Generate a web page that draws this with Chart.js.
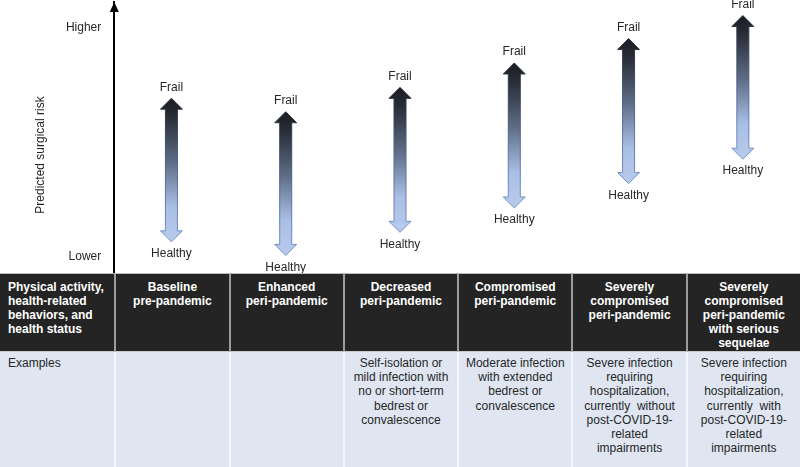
<!DOCTYPE html>
<html>
<head>
<meta charset="utf-8">
<script src="https://cdn.jsdelivr.net/npm/chart.js@4"></script>
<style>
  html, body { margin: 0; padding: 0; background: #fff; }
  body { width: 800px; height: 467px; overflow: hidden; font-family: "Liberation Sans", Arial, sans-serif; }
  #wrap { position: absolute; left: 0; top: 0; width: 800px; height: 273px; }
  #tbl {
    position: absolute; left: 0; top: 273px; width: 800px; height: 194px;
    display: grid; grid-template-columns: repeat(7, 1fr); grid-template-rows: 79px 115px;
    background: #dfe6f2;
  }
  .hd { background: #242424; color: #fff; font-weight: bold; font-size: 12px; line-height: 14px;
        text-align: center; padding-top: 6px; box-sizing: border-box; border-top: 1px solid #bdbdbd;
        border-bottom: 1px solid #c9c9c9; }
  .hd + .hd { border-left: 2px solid #9c9c9c; }
  .ex { background: #dfe6f2; color: #262626; font-size: 12px; line-height: 14.2px; text-align: center;
        padding-top: 4px; box-sizing: border-box; }
  .ex + .ex { border-left: 2px solid #f3f5f9; }
  .first { text-align: left; padding-left: 8px; }
</style>
</head>
<body>
<div id="wrap"><canvas id="chartRisk"></canvas></div>
<div id="tbl"></div>
<script>
// arrow columns (one per stage)
const categories = [
  "Baseline pre-pandemic",
  "Enhanced peri-pandemic",
  "Decreased peri-pandemic",
  "Compromised peri-pandemic",
  "Severely compromised peri-pandemic",
  "Severely compromised peri-pandemic with serious sequelae"
];
// predicted risk, 0 = lowest, 100 = highest
const frailRisk   = [64.5, 59.5, 68.5, 77.5, 86.5, 95];
const healthyRisk = [11.5, 6.5, 15, 24, 33, 42];
const tickValues = [6, 90.5];
const tickLabels = ["Lower", "Higher"];
const axisTitle = "Predicted surgical risk";
const topLabel = "Frail";
const bottomLabel = "Healthy";

// table below the chart
const headerLines = [
  ["Physical activity,", "health-related", "behaviors, and", "health status"],
  ["Baseline", "pre-pandemic"],
  ["Enhanced", "peri-pandemic"],
  ["Decreased", "peri-pandemic"],
  ["Compromised", "peri-pandemic"],
  ["Severely", "compromised", "peri-pandemic"],
  ["Severely", "compromised", "peri-pandemic", "with serious", "sequelae"]
];
const exampleLines = [
  ["Examples"],
  [],
  [],
  ["Self-isolation or", "mild infection with", "no or short-term", "bedrest or", "convalescence"],
  ["Moderate infection", "with extended", "bedrest or", "convalescence"],
  ["Severe infection", "requiring", "hospitalization,", "currently\u00a0 without", "post-COVID-19-", "related", "impairments"],
  ["Severe infection", "requiring", "hospitalization,", "currently\u00a0 with", "post-COVID-19-", "related", "impairments"]
];

const tbl = document.getElementById("tbl");
headerLines.forEach((lines, i) => {
  const d = document.createElement("div");
  d.className = "hd" + (i === 0 ? " first" : "");
  d.innerHTML = lines.join("<br>");
  tbl.appendChild(d);
});
exampleLines.forEach((lines, i) => {
  const d = document.createElement("div");
  d.className = "ex" + (i === 0 ? " first" : "");
  d.innerHTML = lines.join("<br>");
  tbl.appendChild(d);
});

const FONT = '12px "Liberation Sans", Arial, sans-serif';

/* draws the double arrows, their labels, the axis arrowhead and title */
const arrowPlugin = {
  id: "arrows",
  afterDatasetsDraw(chart) {
    const ctx = chart.ctx;
    const meta = chart.getDatasetMeta(0);
    const sw = 6, hw = 11, hh = 11;
    ctx.save();
    meta.data.forEach((bar) => {
      const x = bar.x;
      const top = Math.min(bar.y, bar.base);
      const bot = Math.max(bar.y, bar.base);
      const fill = ctx.createLinearGradient(0, top, 0, bot);
      fill.addColorStop(0, "#1b1d23");
      fill.addColorStop(0.12, "#272b34");
      fill.addColorStop(0.45, "#5f6e88");
      fill.addColorStop(0.75, "#a8bee5");
      fill.addColorStop(1, "#b9cbec");
      const line = ctx.createLinearGradient(0, top, 0, bot);
      line.addColorStop(0, "#2a2d35");
      line.addColorStop(0.5, "#4f6690");
      line.addColorStop(1, "#7695cf");
      ctx.beginPath();
      ctx.moveTo(x, top);
      ctx.lineTo(x + hw, top + hh);
      ctx.lineTo(x + sw, top + hh);
      ctx.lineTo(x + sw, bot - hh);
      ctx.lineTo(x + hw, bot - hh);
      ctx.lineTo(x, bot);
      ctx.lineTo(x - hw, bot - hh);
      ctx.lineTo(x - sw, bot - hh);
      ctx.lineTo(x - sw, top + hh);
      ctx.lineTo(x - hw, top + hh);
      ctx.closePath();
      ctx.fillStyle = fill;
      ctx.fill();
      ctx.lineWidth = 1;
      ctx.strokeStyle = line;
      ctx.stroke();

      ctx.fillStyle = "#262626";
      ctx.font = FONT;
      ctx.textAlign = "center";
      ctx.textBaseline = "middle";
      ctx.fillText(topLabel, x, top - 11);
      ctx.fillText(bottomLabel, x, bot + 12);
    });

    // arrowhead on the y axis
    const area = chart.chartArea;
    const ax = area.left;
    ctx.fillStyle = "#000";
    ctx.beginPath();
    ctx.moveTo(ax, area.top);
    ctx.lineTo(ax + 4.5, area.top + 10);
    ctx.lineTo(ax - 4.5, area.top + 10);
    ctx.closePath();
    ctx.fill();

    // axis title
    ctx.translate(41, 155);
    ctx.rotate(-Math.PI / 2);
    ctx.fillStyle = "#262626";
    ctx.font = FONT;
    ctx.textAlign = "center";
    ctx.textBaseline = "middle";
    ctx.fillText(axisTitle, 0, 0);
    ctx.restore();
  }
};

const data = {
  labels: categories,
  datasets: [{
    label: "risk range",
    data: categories.map((c, i) => [healthyRisk[i], frailRisk[i]]),
    backgroundColor: "rgba(0,0,0,0)",
    borderWidth: 0
  }]
};

const config = {
  type: "bar",
  data: data,
  options: {
    responsive: true,
    maintainAspectRatio: false,
    animation: false,
    layout: { padding: { top: 2, left: 0, right: 0, bottom: 0 } },
    plugins: { legend: { display: false }, tooltip: { enabled: false } },
    scales: {
      x: { display: false },
      y: {
        min: 0,
        max: 100,
        grid: { display: false },
        border: { display: true, color: "#000", width: 2 },
        afterFit(scale) {
          scale.width = 800 / 7;
          // labels sit well inside the range, no extra room needed above/below
          scale.paddingTop = 0;
          scale.paddingBottom = 0;
        },
        afterBuildTicks(scale) { scale.ticks = tickValues.map((v) => ({ value: v })); },
        ticks: {
          padding: 5,
          color: "#262626",
          font: { family: '"Liberation Sans", Arial, sans-serif', size: 12 },
          callback: (v) => tickLabels[tickValues.indexOf(v)]
        }
      }
    }
  },
  plugins: [arrowPlugin]
};

new Chart(document.getElementById("chartRisk").getContext("2d"), config);
</script>
</body>
</html>
